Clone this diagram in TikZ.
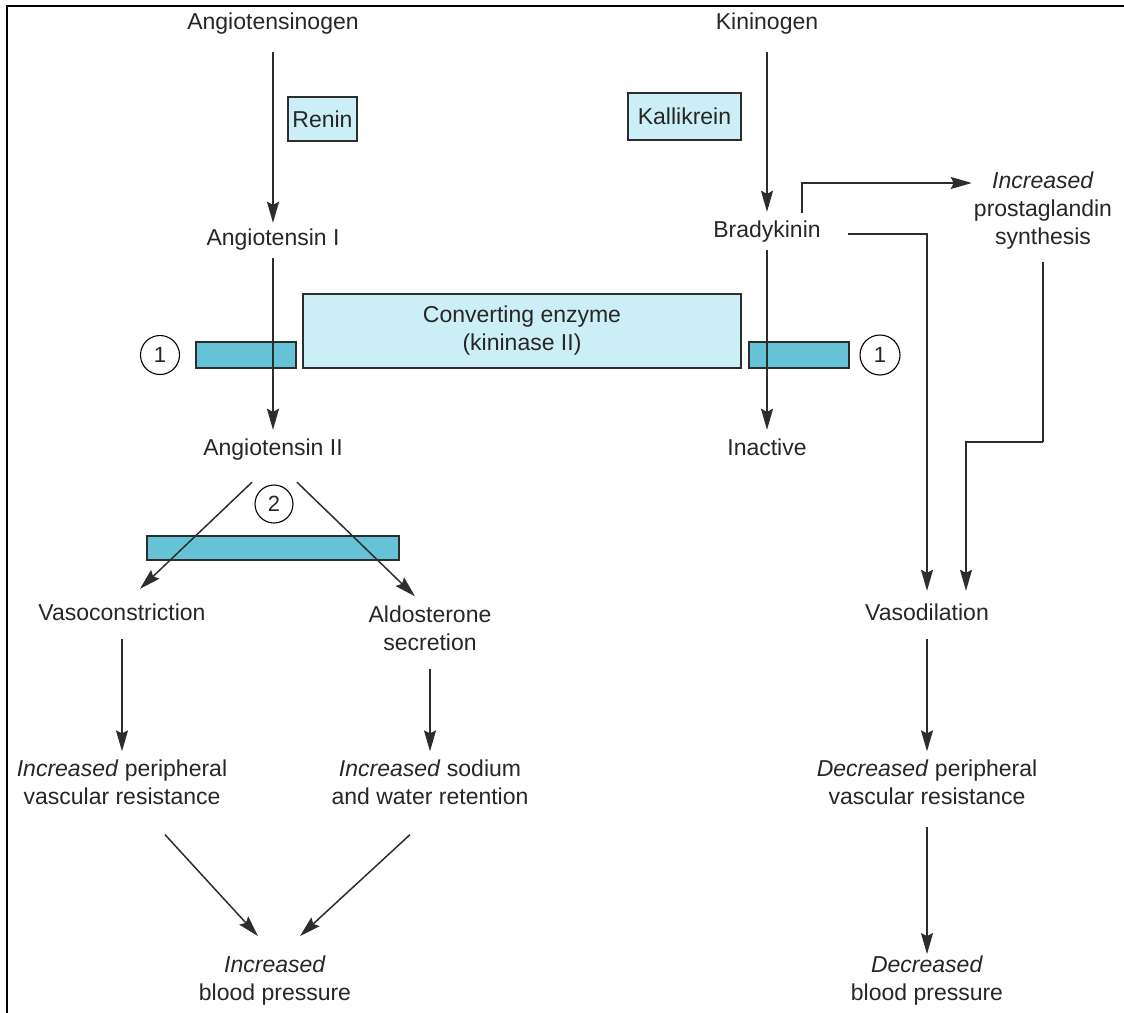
\documentclass[tikz,border=0pt]{standalone}
\usepackage{fontspec}
\setmainfont{Liberation Sans}
\usetikzlibrary{arrows.meta}
\definecolor{lbl}{RGB}{204,238,246}
\definecolor{dbl}{RGB}{102,194,214}
\definecolor{ln}{RGB}{45,45,45}
\begin{document}
\begin{tikzpicture}[x=1pt,y=-1pt,
  every node/.style={font=\fontsize{23}{28}\selectfont, inner sep=2pt, text=black!85},
  lbl1/.style={text height=17pt, text depth=5pt},
  lbl2/.style={align=center},
  lbox/.style={draw=ln, line width=1.3pt, fill=lbl, inner sep=0pt},
  bar/.style={draw=ln, line width=1.3pt, fill=dbl, inner sep=0pt},
  num/.style={draw=black, line width=1.1pt, circle, inner sep=0pt, font=\fontsize{22}{26}\selectfont},
  arr/.style={draw=ln, line width=1.5pt, -{Stealth[length=21pt,width=12pt,inset=3pt]}},
  con/.style={draw=ln, line width=1.5pt}
]
\useasboundingbox (0,0) rectangle (1124,1012);
\draw[line width=2.4pt] (7,1030) -- (7,6) -- (1140,6);

% boxes
\node[lbox, minimum width=69pt, minimum height=44pt] (renin) at (322.5,119) {Renin};
\node[lbox, minimum width=113pt, minimum height=47pt] (kall) at (684.5,116.5) {Kallikrein};
\node[lbox, minimum width=438pt, minimum height=74pt, align=center] (ce) at (522,331) {Converting enzyme\\(kininase II)};
\node[bar, minimum width=100pt, minimum height=26pt] (bar1) at (246,355) {};
\node[bar, minimum width=100pt, minimum height=26pt] (bar1r) at (799,355) {};
\node[bar, minimum width=252pt, minimum height=24pt] (bar2) at (273,548) {};
\node[num, minimum size=39pt] (n1) at (160,355) {1};
\node[num, minimum size=40pt] (n1r) at (880,355) {1};
\node[num, minimum size=38pt] (n2) at (274,504) {2};

% text nodes
\node[lbl1] (agen) at (273,23) {Angiotensinogen};
\node[lbl1] (a1) at (273,239) {Angiotensin I};
\node[lbl1] (a2) at (273,449) {Angiotensin II};
\node[lbl1] (kin) at (767,23) {Kininogen};
\node[lbl1] (bk) at (767,231) {Bradykinin};
\node[lbl1] (inact) at (767,449) {Inactive};
\node[lbl2] (prost) at (1043,211) {\textit{Increased}\\prostaglandin\\synthesis};
\node[lbl1] (vc) at (122,614) {Vasoconstriction};
\node[lbl2] (ald) at (430,628) {Aldosterone\\secretion};
\node[lbl1] (vd) at (927,614) {Vasodilation};
\node[lbl2] (ipvr) at (122,782) {\textit{Increased} peripheral\\vascular resistance};
\node[lbl2] (isod) at (430,782) {\textit{Increased} sodium\\and water retention};
\node[lbl2] (dpvr) at (927,782) {\textit{Decreased} peripheral\\vascular resistance};
\node[lbl2] (ibp) at (275,981) {\textit{Increased}\\blood pressure};
\node[lbl2] (dbp) at (927,981) {\textit{Decreased}\\blood pressure};

% bend points
\coordinate (pk) at (1043,442);

% connectors
\draw[arr, shorten <=16pt, shorten >=3pt] (agen) -- (a1);
\draw[arr, shorten <=6pt, shorten >=6pt] (a1) -- (a2);
\draw[arr, shorten <=16pt, shorten >=6pt] (kin) -- (bk);
\draw[arr, shorten <=6pt, shorten >=6pt] (bk) -- (inact);
\draw[arr] ([xshift=35pt,yshift=5pt]bk.north) |- ([yshift=28pt]prost.west);
\draw[arr, shorten <=25pt, shorten >=10pt] ([yshift=-3pt]bk.east) -| (vd.north);
\draw[con, shorten <=10pt] (prost.south) -- (pk);
\draw[arr, shorten >=10pt] (pk) -| ([xshift=39pt]vd.north);
\draw[arr] ([xshift=-21pt,yshift=-20pt]a2.south) -- ([xshift=18pt,yshift=12pt]vc.north);
\draw[arr] ([xshift=24pt,yshift=-20pt]a2.south) -- ([xshift=-15pt,yshift=7pt]ald.north);
\draw[arr, shorten <=12pt, shorten >=6pt] (vc) -- (ipvr);
\draw[arr, shorten <=16pt, shorten >=6pt] (ald) -- (isod);
\draw[arr, shorten <=12pt, shorten >=6pt] (vd) -- (dpvr);
\draw[arr, shorten <=20pt] (dpvr) -- (dbp);
\draw[arr] ([xshift=43pt,yshift=-28pt]ipvr.south) -- ([xshift=-17pt,yshift=18pt]ibp.north);
\draw[arr] ([xshift=-20pt,yshift=-28pt]isod.south) -- ([xshift=25pt,yshift=18pt]ibp.north);
\end{tikzpicture}
\end{document}
